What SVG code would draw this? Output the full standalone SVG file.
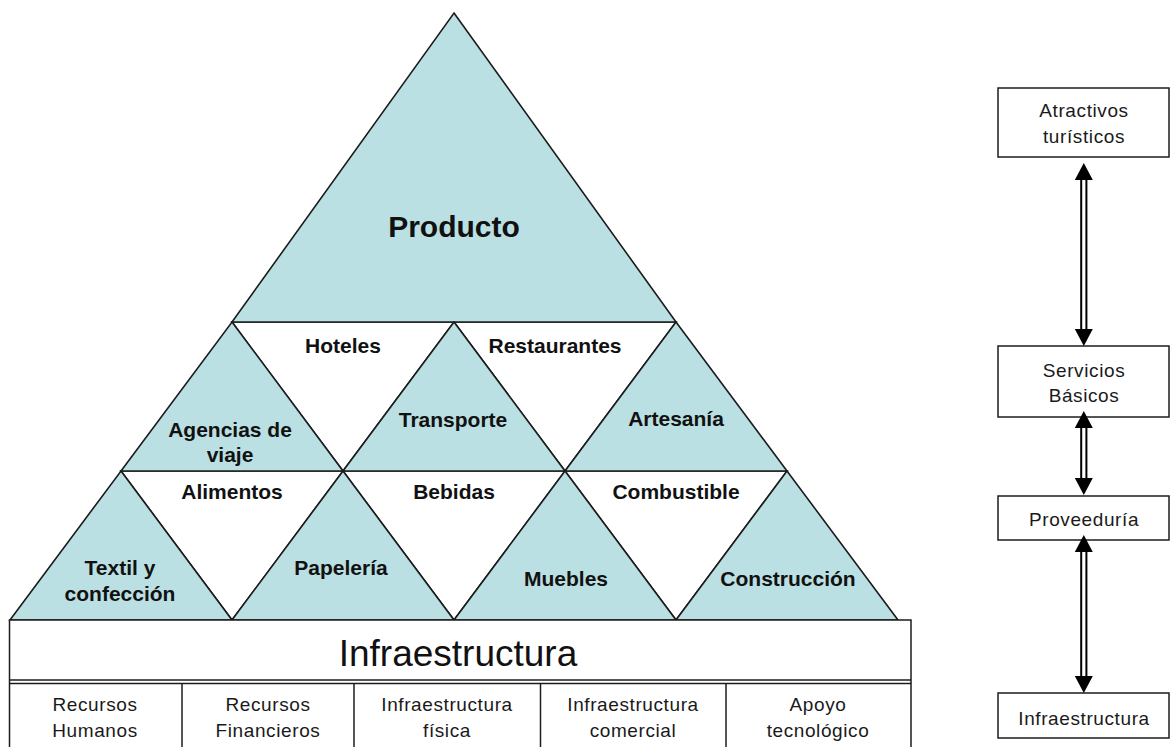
<svg xmlns="http://www.w3.org/2000/svg" width="1171" height="747" viewBox="0 0 1171 747">
  <style>
    .up { fill: #BAE0E3; stroke: #1c1c1c; stroke-width: 1.6; stroke-linejoin: miter; }
    .down { fill: #ffffff; stroke: #1c1c1c; stroke-width: 1.6; }
    .lbl { font-family: "Liberation Sans", Arial, sans-serif; font-weight: bold; font-size: 21px; fill: #111; text-anchor: middle; }
    .big { font-size: 30px; }
    .box { fill: #ffffff; stroke: #1c1c1c; stroke-width: 1.5; }
    .txt { font-family: "Liberation Sans", Arial, sans-serif; font-size: 19px; letter-spacing: 0.6px; fill: #1a1a1a; text-anchor: middle; }
    .title { font-size: 37px; letter-spacing: 0; fill: #111; }
    .rule { stroke: #1c1c1c; stroke-width: 1.5; fill: none; }
    .shaft { stroke: #000; stroke-width: 7.2; fill: none; }
    .gap { stroke: #fff; stroke-width: 3.2; fill: none; }
  </style>
  <defs>
    <marker id="head" markerUnits="userSpaceOnUse" markerWidth="20" markerHeight="20" refX="2" refY="10" orient="auto-start-reverse" viewBox="0 0 20 20">
      <path d="M0,1 L17,10 L0,19 Z" fill="#000"/>
    </marker>
  </defs>

  <rect width="1171" height="747" fill="#ffffff"/>

  <!-- pyramid: white (inverted) tiles first, blue upright tiles on top -->
  <g id="hoteles">
    <polygon class="down" points="232,322 454,322 343,471"/>
    <text class="lbl" x="343" y="353">Hoteles</text>
  </g>
  <g id="restaurantes">
    <polygon class="down" points="454,322 676,322 565,471"/>
    <text class="lbl" x="555" y="353">Restaurantes</text>
  </g>
  <g id="alimentos">
    <polygon class="down" points="121,471 343,471 232,620"/>
    <text class="lbl" x="232" y="499">Alimentos</text>
  </g>
  <g id="bebidas">
    <polygon class="down" points="343,471 565,471 454,620"/>
    <text class="lbl" x="454" y="499">Bebidas</text>
  </g>
  <g id="combustible">
    <polygon class="down" points="565,471 787,471 676,620"/>
    <text class="lbl" x="676" y="499">Combustible</text>
  </g>

  <g id="producto">
    <polygon class="up" points="454,13 676,322 232,322"/>
    <text class="lbl big" x="454" y="237">Producto</text>
  </g>
  <g id="agencias">
    <polygon class="up" points="232,322 343,471 121,471"/>
    <text class="lbl" x="230" y="437">Agencias de</text>
    <text class="lbl" x="230" y="462">viaje</text>
  </g>
  <g id="transporte">
    <polygon class="up" points="454,322 565,471 343,471"/>
    <text class="lbl" x="453" y="427">Transporte</text>
  </g>
  <g id="artesania">
    <polygon class="up" points="676,322 787,471 565,471"/>
    <text class="lbl" x="676" y="426">Artesanía</text>
  </g>
  <g id="textil">
    <polygon class="up" points="121,471 232,620 10,620"/>
    <text class="lbl" x="120" y="575">Textil y</text>
    <text class="lbl" x="120" y="601">confección</text>
  </g>
  <g id="papeleria">
    <polygon class="up" points="343,471 454,620 232,620"/>
    <text class="lbl" x="341" y="575">Papelería</text>
  </g>
  <g id="muebles">
    <polygon class="up" points="565,471 676,620 454,620"/>
    <text class="lbl" x="566" y="586">Muebles</text>
  </g>
  <g id="construccion">
    <polygon class="up" points="787,471 898,620 676,620"/>
    <text class="lbl" x="788" y="586">Construcción</text>
  </g>

  <!-- base: infrastructure band and its five supports -->
  <g id="infraestructura-base">
    <rect class="box" x="9.5" y="620" width="901.5" height="140"/>
    <line class="rule" x1="9.5" y1="680" x2="911" y2="680"/>
    <line class="rule" x1="9.5" y1="683.5" x2="911" y2="683.5"/>
    <text class="txt title" x="458" y="666">Infraestructura</text>
  </g>
  <g id="recursos-humanos">
    <text class="txt" x="95" y="711">Recursos</text>
    <text class="txt" x="95" y="737">Humanos</text>
  </g>
  <g id="recursos-financieros">
    <line class="rule" x1="182" y1="683.5" x2="182" y2="760"/>
    <text class="txt" x="268" y="711">Recursos</text>
    <text class="txt" x="268" y="737">Financieros</text>
  </g>
  <g id="infra-fisica">
    <line class="rule" x1="354" y1="683.5" x2="354" y2="760"/>
    <text class="txt" x="447" y="711">Infraestructura</text>
    <text class="txt" x="447" y="737">física</text>
  </g>
  <g id="infra-comercial">
    <line class="rule" x1="540.5" y1="683.5" x2="540.5" y2="760"/>
    <text class="txt" x="633" y="711">Infraestructura</text>
    <text class="txt" x="633" y="737">comercial</text>
  </g>
  <g id="apoyo-tecnologico">
    <line class="rule" x1="726" y1="683.5" x2="726" y2="760"/>
    <text class="txt" x="818" y="711">Apoyo</text>
    <text class="txt" x="818" y="737">tecnológico</text>
  </g>

  <!-- right-hand chain -->
  <g id="atractivos">
    <rect class="box" x="998" y="88" width="171" height="69"/>
    <text class="txt" x="1084" y="117">Atractivos</text>
    <text class="txt" x="1084" y="143">turísticos</text>
  </g>
  <g id="servicios">
    <rect class="box" x="998" y="346" width="171" height="71"/>
    <text class="txt" x="1084" y="377">Servicios</text>
    <text class="txt" x="1084" y="402">Básicos</text>
  </g>
  <g id="proveeduria">
    <rect class="box" x="998" y="496" width="171" height="44"/>
    <text class="txt" x="1084" y="526">Proveeduría</text>
  </g>
  <g id="infraestructura">
    <rect class="box" x="998" y="693" width="171" height="45"/>
    <text class="txt" x="1084" y="725">Infraestructura</text>
  </g>

  <g id="connectors">
    <line class="shaft" x1="1083.8" y1="178" x2="1083.8" y2="331" marker-start="url(#head)" marker-end="url(#head)"/>
    <line class="gap" x1="1083.8" y1="180" x2="1083.8" y2="329"/>
    <line class="shaft" x1="1083.8" y1="426" x2="1083.8" y2="480" marker-start="url(#head)" marker-end="url(#head)"/>
    <line class="gap" x1="1083.8" y1="428" x2="1083.8" y2="478"/>
    <line class="shaft" x1="1083.8" y1="550" x2="1083.8" y2="678" marker-start="url(#head)" marker-end="url(#head)"/>
    <line class="gap" x1="1083.8" y1="552" x2="1083.8" y2="676"/>
  </g>
</svg>
